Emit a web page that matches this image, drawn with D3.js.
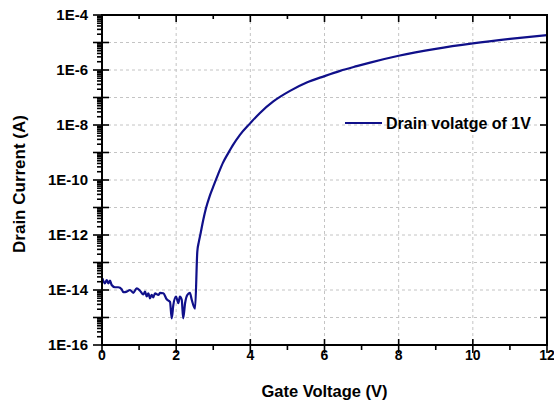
<!DOCTYPE html>
<html>
<head>
<meta charset="utf-8">
<script src="https://cdn.jsdelivr.net/npm/d3@7"></script>
<style>
body { margin: 0; background: #fff; }
text { font-family: "Liberation Sans", Arial, sans-serif; font-weight: bold; fill: #000; }
</style>
</head>
<body>
<svg id="chart" width="554" height="403"></svg>
<script>
// values (Id vs Vg, Vd = 1V)
var gateVoltage = [0.01, 0.08, 0.127, 0.17, 0.216, 0.26, 0.35, 0.44, 0.53, 0.575,
	0.666, 0.755, 0.844, 0.936, 1.025, 1.114, 1.16, 1.205, 1.25, 1.294,
	1.34, 1.383, 1.43, 1.52, 1.564, 1.653, 1.745, 1.834, 1.88, 1.923,
	1.996, 2.058, 2.10, 2.15, 2.19, 2.24, 2.30, 2.37, 2.42, 2.51,
	2.57, 2.61, 2.65, 2.73, 2.8, 2.9, 3.0, 3.13, 3.26, 3.4,
	3.53, 3.72, 4.0, 4.26, 4.62, 5.07, 5.52, 6.0, 6.42, 6.87,
	7.23, 8, 9, 10, 11, 12];
var drainCurrent = [2.66e-14, 1.75e-14, 2.31e-14, 1.75e-14, 2.19e-14, 1.52e-14, 1.26e-14, 1.26e-14, 1.07e-14, 8.3e-15,
	8.7e-15, 1.0e-14, 7.9e-15, 1.15e-14, 9.4e-15, 6.9e-15, 8.7e-15, 5.8e-15, 7.6e-15, 5.0e-15,
	6.6e-15, 5.4e-15, 7.6e-15, 6.6e-15, 7.9e-15, 7.6e-15, 4.6e-15, 3.7e-15, 9.3e-16, 2.8e-15,
	5.8e-15, 3.3e-15, 5.8e-15, 4.4e-15, 9.3e-16, 3.3e-15, 6.6e-15, 7.9e-15, 4.4e-15, 2.1e-15,
	2.5e-13, 5.5e-13, 1.0e-12, 3.5e-12, 9e-12, 2.5e-11, 5.7e-11, 1.6e-10, 4.2e-10, 9.3e-10,
	1.86e-9, 4.4e-9, 1.17e-8, 2.75e-8, 7.2e-8, 1.74e-7, 3.5e-7, 6.0e-7, 9.3e-7, 1.38e-6,
	1.86e-6, 3.3e-6, 5.9e-6, 9.3e-6, 1.35e-5, 1.86e-5];

var xTicks = [0, 2, 4, 6, 8, 10, 12];
var xMinorTicks = [1, 3, 5, 7, 9, 11];
var yTickExps = [-4, -6, -8, -10, -12, -14, -16];
var legendLabel = "Drain volatge of 1V";
var xTitle = "Gate Voltage (V)";
var yTitle = "Drain Current (A)";

var margin = { top: 15, right: 7, bottom: 58, left: 102 };
var width = 554 - margin.left - margin.right;
var height = 403 - margin.top - margin.bottom;
var lineColor = "#10108a";

var svg = d3.select("#chart");
var g = svg.append("g").attr("transform", "translate(" + margin.left + "," + margin.top + ")");

var x = d3.scaleLinear().domain([0, 12]).range([0, width]);
var y = d3.scaleLog().domain([1e-16, 1e-4]).range([height, 0]);

// every decade and the 2..9 minors
var decades = d3.range(-16, -3).map(function(e) { return Math.pow(10, e); });
var minors = [];
d3.range(-16, -4).forEach(function(e) {
	for (var k = 2; k <= 9; k++) minors.push(k * Math.pow(10, e));
});

//grid
g.selectAll(".vgrid").data(xTicks.slice(1, -1)).enter().append("line")
	.attr("x1", function(d) { return x(d); }).attr("x2", function(d) { return x(d); })
	.attr("y1", 0).attr("y2", height)
	.attr("stroke", "#c4c4c4").attr("stroke-width", 1).attr("stroke-dasharray", "3,3");
g.selectAll(".hgrid").data(decades.slice(1, -1)).enter().append("line")
	.attr("x1", 0).attr("x2", width)
	.attr("y1", function(d) { return y(d); }).attr("y2", function(d) { return y(d); })
	.attr("stroke", "#c4c4c4").attr("stroke-width", 1).attr("stroke-dasharray", "3,3");

// curve
var pts = gateVoltage.map(function(v, i) { return [v, drainCurrent[i]]; });
g.append("path").datum(pts)
	.attr("fill", "none").attr("stroke", lineColor).attr("stroke-width", 2.2)
	.attr("stroke-linejoin", "round")
	.attr("d", d3.line().curve(d3.curveMonotoneX)
		.x(function(d) { return x(d[0]); }).y(function(d) { return y(d[1]); }));

// ticks
function ticks(data, horiz, pos, a, b) {
	g.selectAll(null).data(data).enter().append("line")
		.attr("x1", function(d) { return horiz ? x(d) : pos + a; })
		.attr("x2", function(d) { return horiz ? x(d) : pos + b; })
		.attr("y1", function(d) { return horiz ? pos + a : y(d); })
		.attr("y2", function(d) { return horiz ? pos + b : y(d); })
		.attr("stroke", "#000").attr("stroke-width", 1.6);
}
ticks(decades, false, 0, -9, 7);
ticks(minors, false, 0, -5, 0);
ticks(decades, false, width, -7, 0);
ticks(xTicks, true, height, -6, 8);
ticks(xMinorTicks, true, height, 0, 5);
ticks(xTicks, true, 0, 0, 7);
ticks(xMinorTicks, true, 0, 0, 4);

// frame
g.append("rect").attr("x", 0).attr("y", 0).attr("width", width).attr("height", height)
	.attr("fill", "none").attr("stroke", "#000").attr("stroke-width", 2);

// tick labels
g.selectAll(".xl").data(xTicks).enter().append("text")
	.attr("x", function(d) { return x(d); }).attr("y", height + 14.5)
	.attr("text-anchor", "middle").style("font-size", "14px")
	.text(function(d) { return d; });
g.selectAll(".yl").data(yTickExps).enter().append("text")
	.attr("x", -14).attr("y", function(d) { return y(Math.pow(10, d)); })
	.attr("dy", "0.36em").attr("text-anchor", "end").style("font-size", "15px")
	.text(function(d) { return "1E" + d; });

// titles
svg.append("text").attr("x", margin.left + width / 2).attr("y", 397)
	.attr("text-anchor", "middle").style("font-size", "16.5px").text(xTitle);
svg.append("text").attr("transform", "translate(25," + (margin.top + height / 2 + 4) + ") rotate(-90)")
	.attr("text-anchor", "middle").style("font-size", "17px").text(yTitle);

// legend
var legend = svg.append("g").attr("transform", "translate(345,123)");
legend.append("line").attr("x1", 0).attr("x2", 37).attr("y1", 0).attr("y2", 0)
	.attr("stroke", lineColor).attr("stroke-width", 2.2);
legend.append("text").attr("x", 41).attr("y", 0).attr("dy", "0.36em")
	.style("font-size", "16px").text(legendLabel);
</script>
</body>
</html>
